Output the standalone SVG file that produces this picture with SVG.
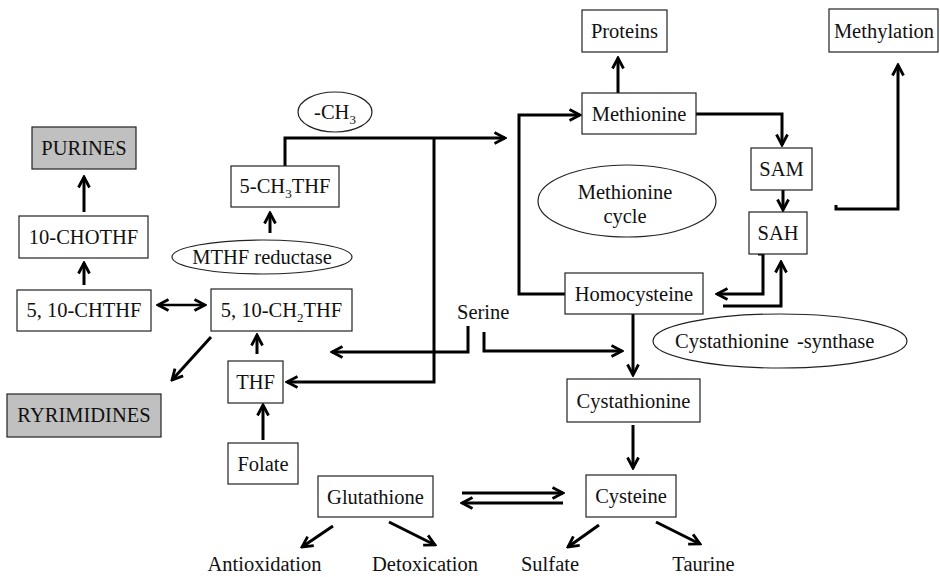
<svg xmlns="http://www.w3.org/2000/svg" width="940" height="577" viewBox="0 0 940 577" font-family="'Liberation Serif', 'DejaVu Serif', serif">
<defs>
<marker id="ah" viewBox="0 0 14 14" refX="12" refY="7" markerWidth="14" markerHeight="14" markerUnits="userSpaceOnUse" orient="auto-start-reverse">
<path d="M1.5,1.5 L12,7 L1.5,12.5" fill="none" stroke="#000" stroke-width="2.8" stroke-linejoin="miter"/>
</marker>
</defs>
<style>
text{font-family:"Liberation Serif","DejaVu Serif",serif;font-size:20.5px;fill:#111;}
.c{text-anchor:middle;}
rect{fill:#fff;stroke:#222;stroke-width:1.2;}
rect.g{fill:#c0c0c0;}
ellipse{fill:#fff;stroke:#222;stroke-width:1.2;}
#connectors path{fill:none;stroke:#000;stroke-width:3;}
.sub{font-size:13px;}
</style>
<rect x="0" y="0" width="940" height="577" style="fill:#fff;stroke:none"/>
<g id="connectors">
<path d="M84,212 V177" marker-end="url(#ah)"/>
<path d="M84,285 V263" marker-end="url(#ah)"/>
<path d="M158,305 H205" marker-start="url(#ah)" marker-end="url(#ah)" style="stroke-width:2.6"/>
<path d="M270,233 V213" marker-end="url(#ah)"/>
<path d="M285,166 V138 H505" marker-end="url(#ah)"/>
<path d="M434,138 V382 H287" marker-end="url(#ah)"/>
<path d="M257,354 V335" marker-end="url(#ah)"/>
<path d="M263,440 V405" marker-end="url(#ah)"/>
<path d="M211,337 L172,380" marker-end="url(#ah)"/>
<path d="M468,326 V352 H332" marker-end="url(#ah)"/>
<path d="M484,332 V351 H622" marker-end="url(#ah)"/>
<path d="M565,294 H519 V115 H580" marker-end="url(#ah)"/>
<path d="M618,93 V58" marker-end="url(#ah)"/>
<path d="M696,114 H782 V145" marker-end="url(#ah)"/>
<path d="M783,190 V210" marker-end="url(#ah)"/>
<path d="M836,205 V209 H898 V65" marker-end="url(#ah)"/>
<path d="M758,254 H763 V294 H717" marker-end="url(#ah)"/>
<path d="M723,306 H781 V262" marker-end="url(#ah)"/>
<path d="M633,314 V375" marker-end="url(#ah)"/>
<path d="M633,425 V468" marker-end="url(#ah)"/>
<path d="M462,493 H563" marker-end="url(#ah)"/>
<path d="M563,503 H462" marker-end="url(#ah)"/>
<path d="M333,526 L302,547" marker-end="url(#ah)"/>
<path d="M389,522 L435,545" marker-end="url(#ah)"/>
<path d="M599,525 L568,547" marker-end="url(#ah)"/>
<path d="M656,522 L700,544" marker-end="url(#ah)"/>
</g>
<g id="purines"><rect class="g" x="32" y="127" width="104" height="42"/><text class="c" x="84" y="155">PURINES</text></g>
<g id="chothf"><rect x="19" y="216" width="129" height="42"/><text class="c" x="83.5" y="244">10-CHOTHF</text></g>
<g id="chthf"><rect x="17" y="290" width="134" height="41"/><text class="c" x="84" y="317">5, 10-CHTHF</text></g>
<g id="ch2thf"><rect x="211" y="289" width="141" height="42"/><text class="c" x="281.5" y="317">5, 10-CH<tspan class="sub" dy="5">2</tspan><tspan dy="-5">THF</tspan></text></g>
<g id="ch3thf"><rect x="231" y="166" width="108" height="41"/><text class="c" x="285" y="193">5-CH<tspan class="sub" dy="5">3</tspan><tspan dy="-5">THF</tspan></text></g>
<g id="thf"><rect x="228" y="361" width="55" height="42"/><text class="c" x="255.5" y="389">THF</text></g>
<g id="folate"><rect x="228" y="443" width="70" height="41"/><text class="c" x="263" y="471">Folate</text></g>
<g id="pyrimidines"><rect class="g" x="7" y="394" width="154" height="43"/><text class="c" x="84" y="422">RYRIMIDINES</text></g>
<g id="glutathione"><rect x="318" y="476" width="115" height="41"/><text class="c" x="375.5" y="504">Glutathione</text></g>
<g id="cysteine"><rect x="586" y="475" width="90" height="42"/><text class="c" x="631" y="503">Cysteine</text></g>
<g id="cystathionine"><rect x="567" y="379" width="133" height="43"/><text class="c" x="633.5" y="408">Cystathionine</text></g>
<g id="homocysteine"><rect x="565" y="273" width="138" height="41"/><text class="c" x="634" y="301">Homocysteine</text></g>
<g id="methionine"><rect x="582" y="93" width="114" height="41"/><text class="c" x="639" y="121">Methionine</text></g>
<g id="proteins"><rect x="582" y="10" width="85" height="42"/><text class="c" x="624.5" y="38">Proteins</text></g>
<g id="sam"><rect x="751" y="148" width="61" height="42"/><text class="c" x="781.5" y="176">SAM</text></g>
<g id="sah"><rect x="749" y="212" width="58" height="42"/><text class="c" x="778" y="240">SAH</text></g>
<g id="methylation"><rect x="829" y="9" width="109" height="43"/><text class="c" x="884" y="38">Methylation</text></g>
<g id="ch3"><ellipse cx="335" cy="112" rx="37" ry="20"/><text class="c" x="335" y="119">-CH<tspan class="sub" dy="5">3</tspan></text></g>
<g id="mthfr"><ellipse cx="262" cy="257" rx="90" ry="17"/><text class="c" x="262" y="264">MTHF reductase</text></g>
<g id="metcycle"><ellipse cx="627" cy="201" rx="89" ry="36"/><text class="c" x="625" y="199">Methionine</text><text class="c" x="625" y="223">cycle</text></g>
<g id="cbs"><ellipse cx="780" cy="341" rx="127" ry="27"/><text x="675" y="348">Cystathionine</text><text x="797" y="348">-synthase</text></g>
<g id="serine"><text x="457" y="319">Serine</text></g>
<g id="antiox"><text class="c" x="264.5" y="571">Antioxidation</text></g>
<g id="detox"><text class="c" x="425" y="571">Detoxication</text></g>
<g id="sulfate"><text class="c" x="550" y="571">Sulfate</text></g>
<g id="taurine"><text class="c" x="703.5" y="571">Taurine</text></g>
</svg>
